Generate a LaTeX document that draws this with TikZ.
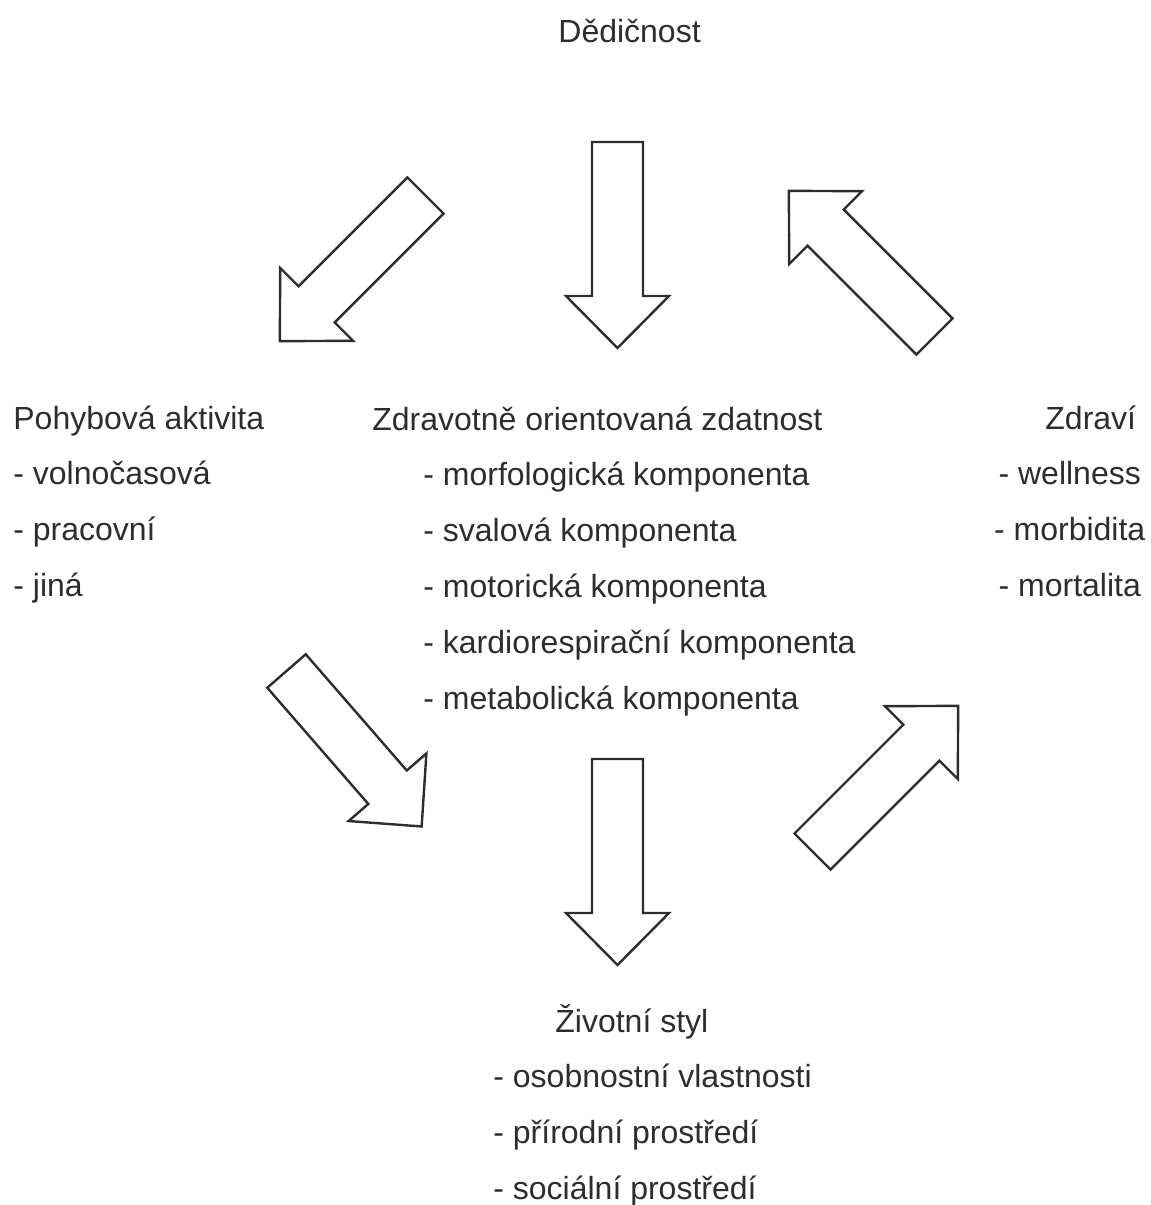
\documentclass[tikz,border=0pt]{standalone}
\usepackage{fontspec}
\setmainfont{Liberation Sans}
\usepackage{tikz}
\usetikzlibrary{positioning}
\definecolor{inkgray}{RGB}{45,45,45}

\begin{document}
\begin{tikzpicture}[
    x=0.5pt, y=-0.5pt,
    node distance=12pt,
    txt/.style={inner sep=0pt, text height=12pt, text depth=3.5pt, font=\fontsize{16}{19}\selectfont, text=inkgray},
    arrline/.style={draw=inkgray, line width=1.2pt, fill=white, line join=miter},
    blockarrow/.pic={\path[arrline] (0,-25.5) -- (154,-25.5) -- (154,-51.5) -- (206,0) -- (154,51.5) -- (154,25.5) -- (0,25.5) -- cycle;},
  ]
  \useasboundingbox (0,0) rectangle (1151,1205);
  % top
  \node[txt, anchor=base west] (ded) at (558,42) {Dědičnost};
  % left column
  \node[txt, anchor=base west] (pa) at (13,429) {Pohybová aktivita};
  \node[txt, below=of pa.south west, anchor=north west] (pa1) {- volnočasová};
  \node[txt, below=of pa1.south west, anchor=north west] (pa2) {- pracovní};
  \node[txt, below=of pa2.south west, anchor=north west] (pa3) {- jiná};
  % middle column
  \node[txt, anchor=base west] (hz) at (372,430) {Zdravotně orientovaná zdatnost};
  \node[txt, below=of hz.south west, anchor=north west, xshift=25.5pt] (hz1) {- morfologická komponenta};
  \node[txt, below=of hz1.south west, anchor=north west] (hz2) {- svalová komponenta};
  \node[txt, below=of hz2.south west, anchor=north west] (hz3) {- motorická komponenta};
  \node[txt, below=of hz3.south west, anchor=north west] (hz4) {- kardiorespirační komponenta};
  \node[txt, below=of hz4.south west, anchor=north west] (hz5) {- metabolická komponenta};
  % right column
  \node[txt, anchor=base west] (zd) at (1045,429) {Zdraví};
  \node[txt, below=of zd.south, xshift=-10.5pt] (zd1) {- wellness};
  \node[txt, below=of zd1] (zd2) {- morbidita};
  \node[txt, below=of zd2] (zd3) {- mortalita};
  % bottom
  \node[txt, anchor=base west] (zs) at (555,1032) {Životní styl};
  \node[txt, below=of zs.south west, anchor=north west, xshift=-31pt] (zs1) {- osobnostní vlastnosti};
  \node[txt, below=of zs1.south west, anchor=north west] (zs2) {- přírodní prostředí};
  \node[txt, below=of zs2.south west, anchor=north west] (zs3) {- sociální prostředí};
  % block arrows
  \foreach \px/\py/\ang in {617.5/142/-90, 617.5/759/-90, 425.5/195.5/-135,
      934.5/336.5/135, 286.5/671/-49, 812.5/851.5/45}
    \pic[rotate=\ang] at (\px,\py) {blockarrow};
\end{tikzpicture}
\end{document}
